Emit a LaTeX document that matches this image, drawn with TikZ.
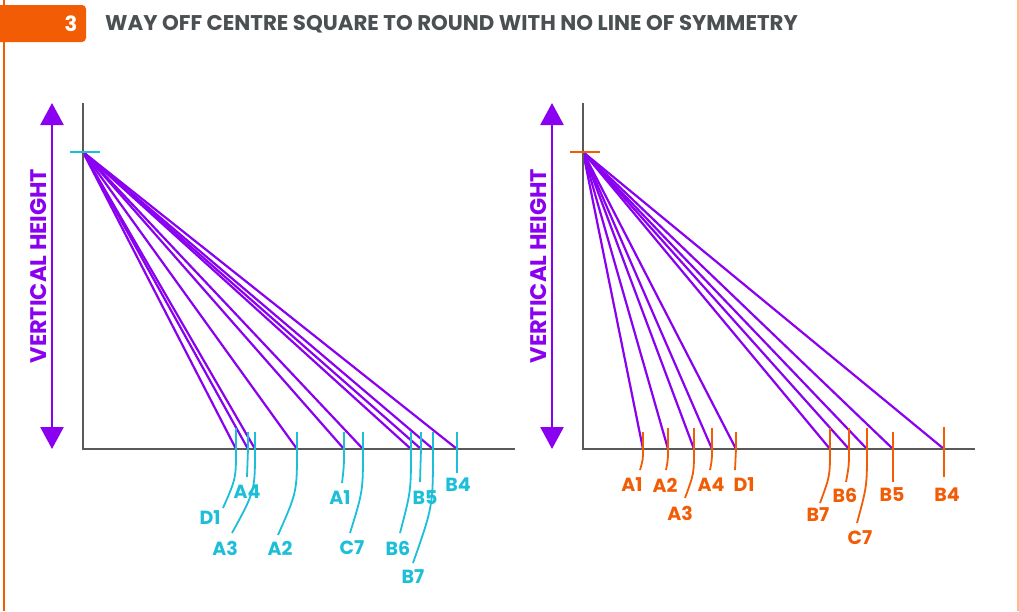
\documentclass[tikz,border=0pt]{standalone}
\usepackage{fontspec}
\setmainfont{Poppins}
\usetikzlibrary{arrows.meta}
\definecolor{purp}{HTML}{8A00F0}
\definecolor{cyanc}{HTML}{1CBFD8}
\definecolor{orng}{HTML}{F25C05}
\definecolor{lorng}{HTML}{FFB98C}
\definecolor{axisg}{HTML}{5A5A5A}
\definecolor{titleg}{HTML}{4B5053}
\tikzset{
  axisline/.style={draw=axisg,line width=2.6pt},
  ray/.style={draw=purp,line width=2.2pt},
  hgt/.style={draw=purp,line width=2.6pt,{Triangle[width=23pt,length=22pt]}-{Triangle[width=23pt,length=22pt]}},
  hlabel/.style={text=purp,font=\bfseries\fontsize{22.5}{22.5}\selectfont,rotate=90},
  cyantick/.style={draw=cyanc,line width=1.8pt},
  orangetick/.style={draw=orng,line width=1.8pt},
  cyanlab/.style={text=cyanc,font=\bfseries\fontsize{19}{19}\selectfont,inner sep=0pt},
  orangelab/.style={text=orng,font=\bfseries\fontsize{19}{19}\selectfont,inner sep=0pt},
}
% \tk{style}{labelstyle}{name}{x}{top}{endx}{endy}{labx}{laby}
\newcommand{\tk}[9]{%
  \coordinate (#3-top) at (#4,#5);
  \coordinate (#3-ax) at (#4,449);
  \coordinate (#3-end) at (#6,#7);
  \node[#2] (#3-lab) at (#8,#9) {#3};
  \draw[#1] (#3-top) -- (#3-ax) .. controls (#4,{0.5*(449+#7)}) .. (#3-end);
}
\begin{document}
\begin{tikzpicture}[x=1pt,y=-1pt]
\useasboundingbox (0,0) rectangle (1019,611);
\fill[white] (0,0) rectangle (1019,611);
% frame
\draw[orng,line width=2pt] (4,0) -- (4,611);
\draw[lorng,line width=1.6pt] (1018,0) -- (1018,611);
% badge
\fill[orng,rounded corners=4pt] (-10,5) rectangle (86,42);
\node[text=white,font=\bfseries\fontsize{21}{21}\selectfont,anchor=base] (badge) at (71,31) {3};
\node[text=titleg,font=\bfseries\fontsize{21.3}{22}\selectfont,anchor=base west,inner sep=0pt] (title) at (105,30) {WAY OFF CENTRE SQUARE TO ROUND WITH NO LINE OF SYMMETRY};

% ===== left chart =====
\coordinate (LO) at (83,449);
\coordinate (LT) at (83,103);
\coordinate (LX) at (515,449);
\coordinate (LA) at (83,152);
\coordinate (LH1) at (52,103);
\coordinate (LH2) at (52,449);
\draw[hgt] (LH1) -- (LH2);
\node[hlabel] (LHL) at (39,266) {VERTICAL HEIGHT};
\foreach \x in {236,248,255,297,344,363,411,421,433,457}{
  \draw[ray] (LA) -- (\x,449);
}
\draw[axisline] (LT) -- (LO) -- (LX);
\draw[cyanc,line width=2pt] (70,152) -- (100,152);
\tk{cyantick}{cyanlab}{D1}{236}{428}{223}{508}{210}{518}
\tk{cyantick}{cyanlab}{A4}{248}{432}{247}{477}{247}{492}
\tk{cyantick}{cyanlab}{A3}{255}{432}{232}{533}{225}{548}
\tk{cyantick}{cyanlab}{A2}{297}{432}{278}{535}{280}{548}
\tk{cyantick}{cyanlab}{A1}{344}{432}{342}{483}{340}{498}
\tk{cyantick}{cyanlab}{C7}{363}{432}{350}{533}{352}{548}
\tk{cyantick}{cyanlab}{B6}{411}{432}{400}{533}{398}{548}
\tk{cyantick}{cyanlab}{B5}{421}{432}{420}{482}{425}{498}
\tk{cyantick}{cyanlab}{B7}{433}{432}{413}{563}{413}{577}
\tk{cyantick}{cyanlab}{B4}{457}{432}{457}{473}{458}{485}

% ===== right chart =====
\coordinate (RO) at (583,449);
\coordinate (RT) at (583,103);
\coordinate (RX) at (975,449);
\coordinate (RA) at (583,152);
\coordinate (RH1) at (552,103);
\coordinate (RH2) at (552,449);
\draw[hgt] (RH1) -- (RH2);
\node[hlabel] (RHL) at (539,266) {VERTICAL HEIGHT};
\foreach \x in {643,668,694,712,736,830,849,867,893,944}{
  \draw[ray] (RA) -- (\x,449);
}
\draw[axisline] (RT) -- (RO) -- (RX);
\draw[orng,line width=2pt] (570,152) -- (600,152);
\tk{orangetick}{orangelab}{A1}{643}{432}{640}{470}{632}{485}
\tk{orangetick}{orangelab}{A2}{668}{428}{666}{470}{665}{485}
\tk{orangetick}{orangelab}{A3}{694}{428}{685}{498}{680}{513}
\tk{orangetick}{orangelab}{A4}{712}{428}{710}{470}{711}{485}
\tk{orangetick}{orangelab}{D1}{736}{432}{735}{470}{744}{485}
\tk{orangetick}{orangelab}{B7}{830}{428}{820}{503}{818}{515}
\tk{orangetick}{orangelab}{B6}{849}{428}{846}{482}{845}{495}
\tk{orangetick}{orangelab}{C7}{867}{428}{857}{523}{860}{538}
\tk{orangetick}{orangelab}{B5}{893}{432}{893}{482}{892}{495}
\tk{orangetick}{orangelab}{B4}{944}{427}{944}{477}{947}{495}
\end{tikzpicture}
\end{document}
